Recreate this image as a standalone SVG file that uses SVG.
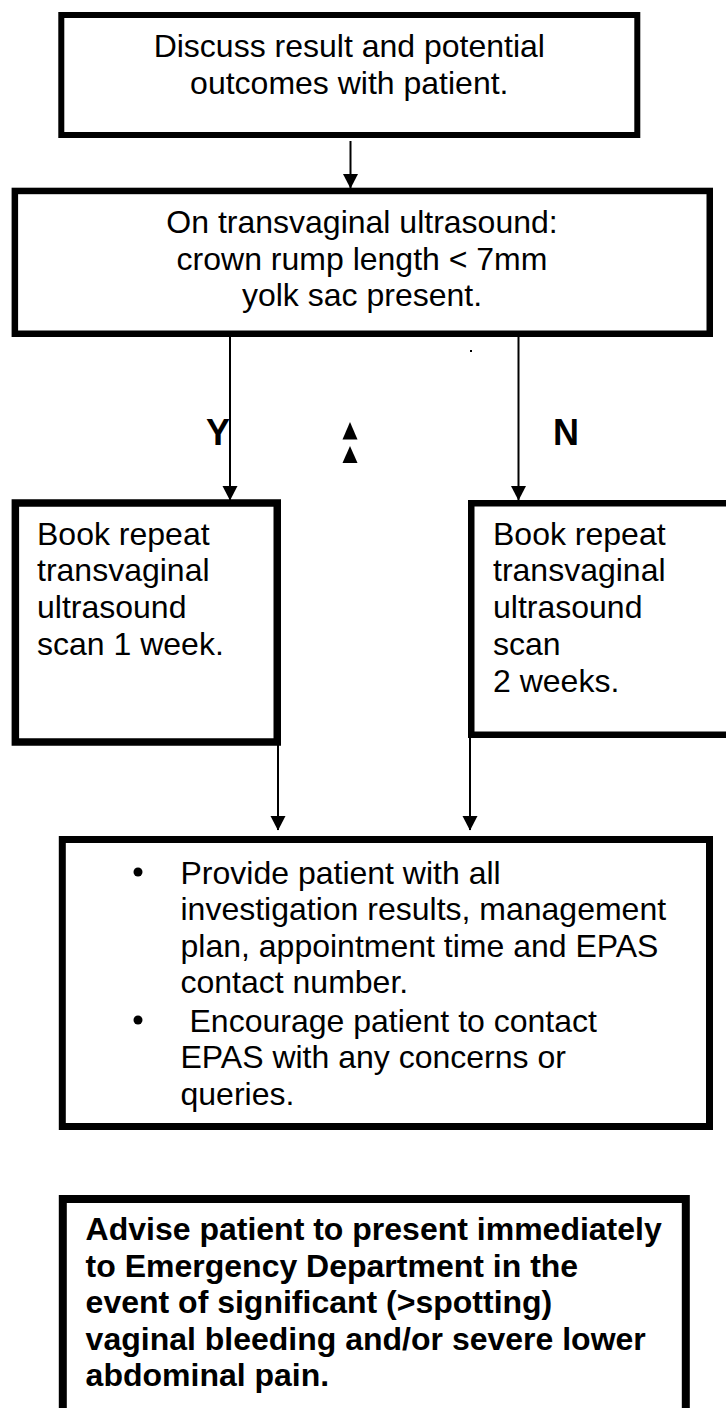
<svg xmlns="http://www.w3.org/2000/svg" width="726" height="1408" viewBox="0 0 726 1408">
<style>
.box{fill:#fff;stroke:#000}
.t{font-family:"Liberation Sans",Arial,sans-serif;font-size:32px;fill:#000}
.c{text-anchor:middle}
.b{font-weight:bold}
.yn{font-size:36px}
.ln{stroke:#000;stroke-width:2;fill:none}
</style>
<defs>
<marker id="ah" markerUnits="userSpaceOnUse" markerWidth="16" markerHeight="15" viewBox="0 0 16 15" refX="8" refY="14" orient="0">
<polygon points="0.5,0 15.5,0 8,14.5" fill="#000"/>
</marker>
</defs>
<rect width="726" height="1408" fill="#fff"/>
<g id="connectors">
<line class="ln" x1="350.5" y1="141" x2="350.5" y2="188" marker-end="url(#ah)"/>
<line class="ln" x1="230" y1="337" x2="230" y2="500" marker-end="url(#ah)"/>
<line class="ln" x1="518.5" y1="337" x2="518.5" y2="500" marker-end="url(#ah)"/>
<line class="ln" x1="278" y1="745" x2="278" y2="830" marker-end="url(#ah)"/>
<line class="ln" x1="470" y1="737" x2="470" y2="830" marker-end="url(#ah)"/>
<polygon points="350,422 342.5,439.5 357.5,439.5" fill="#000"/>
<polygon points="350,446 342.5,463 357.5,463" fill="#000"/>
<rect x="470" y="350" width="2" height="2" fill="#000"/>
</g>
<g id="n1">
<rect class="box" x="61.3" y="15" width="576" height="120" stroke-width="6"/>
<text class="t c" x="349.3" y="57">Discuss result and potential</text>
<text class="t c" x="349.3" y="93.5">outcomes with patient.</text>
</g>
<g id="n2">
<rect class="box" x="14.85" y="190.95" width="694.9" height="142.8" stroke-width="6.5"/>
<text class="t c" x="362" y="233">On transvaginal ultrasound:</text>
<text class="t c" x="362" y="269.5">crown rump length &lt; 7mm</text>
<text class="t c" x="362" y="305.5">yolk sac present.</text>
</g>
<g id="labels">
<text class="t b yn" x="206" y="445">Y</text>
<text class="t b yn" x="553" y="445">N</text>
</g>
<g id="n3">
<rect class="box" x="15.35" y="503" width="261.9" height="239" stroke-width="7.5"/>
<text class="t" x="37" y="545">Book repeat</text>
<text class="t" x="37" y="581">transvaginal</text>
<text class="t" x="37" y="617.5">ultrasound</text>
<text class="t" x="37" y="655">scan 1 week.</text>
</g>
<g id="n4">
<rect class="box" x="471.25" y="503.25" width="300" height="231.5" stroke-width="6.5"/>
<text class="t" x="493" y="545">Book repeat</text>
<text class="t" x="493" y="581">transvaginal</text>
<text class="t" x="493" y="617.5">ultrasound</text>
<text class="t" x="493" y="655">scan</text>
<text class="t" x="493" y="691.5">2 weeks.</text>
</g>
<g id="n5">
<rect class="box" x="62.3" y="839.5" width="647.2" height="287" stroke-width="7"/>
<circle cx="138" cy="872" r="4.5" fill="#000"/>
<text class="t" x="180.5" y="883.5">Provide patient with all</text>
<text class="t" x="180.5" y="920">investigation results, management</text>
<text class="t" x="180.5" y="956.5">plan, appointment time and EPAS</text>
<text class="t" x="180.5" y="993">contact number.</text>
<circle cx="138" cy="1020" r="4.5" fill="#000"/>
<text class="t" x="189.5" y="1031.5">Encourage patient to contact</text>
<text class="t" x="180.5" y="1068">EPAS with any concerns or</text>
<text class="t" x="180.5" y="1104.5">queries.</text>
</g>
<g id="n6">
<rect class="box" x="62.8" y="1199" width="623" height="300" stroke-width="8"/>
<text class="t b" x="85.6" y="1240">Advise patient to present immediately</text>
<text class="t b" x="85.6" y="1276.5">to Emergency Department in the</text>
<text class="t b" x="85.6" y="1313">event of significant (&gt;spotting)</text>
<text class="t b" x="85.6" y="1349.5">vaginal bleeding and/or severe lower</text>
<text class="t b" x="85.6" y="1386">abdominal pain.</text>
</g>
</svg>
